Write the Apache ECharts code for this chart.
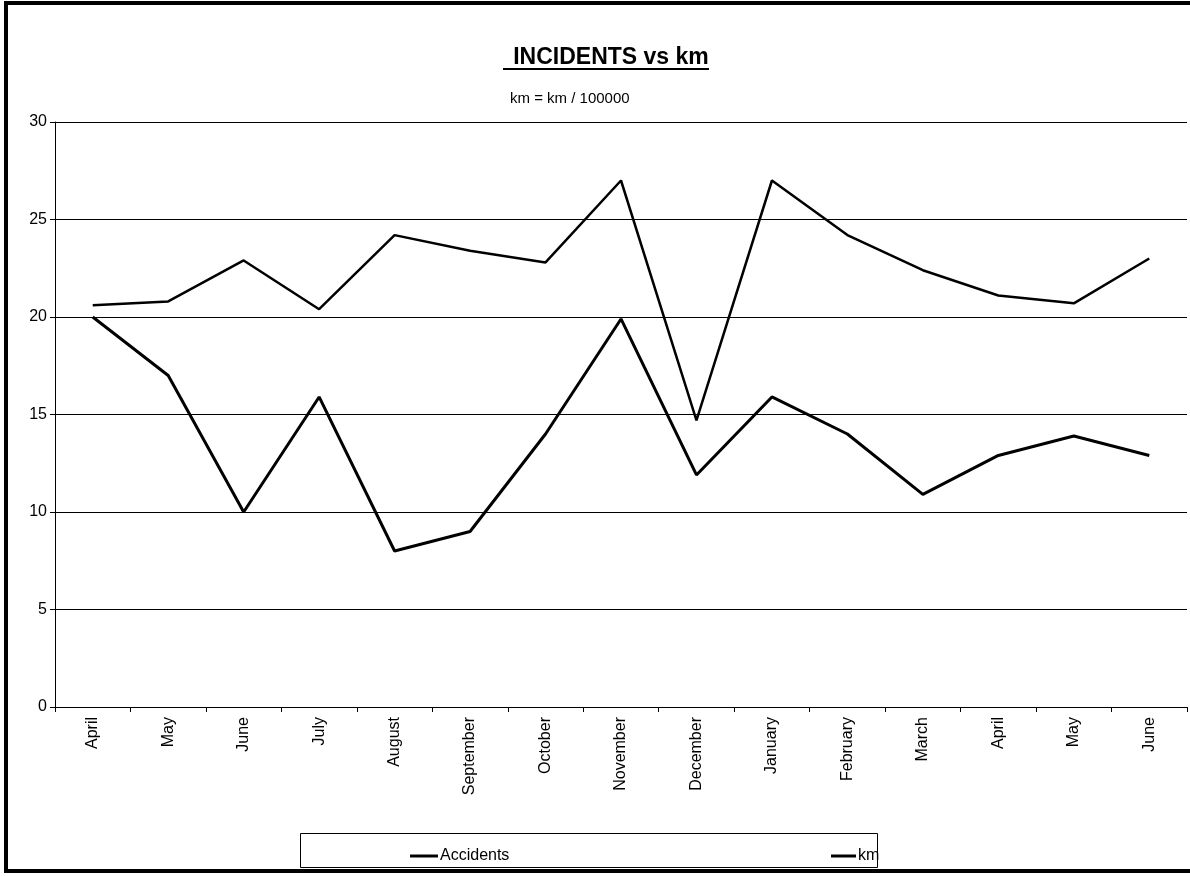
<!DOCTYPE html>
<html>
<head>
<meta charset="utf-8">
<script src="https://cdn.jsdelivr.net/npm/echarts@6/dist/echarts.min.js"></script>
<style>
  html, body { margin: 0; padding: 0; background: #fff; }
  #chart { width: 1190px; height: 876px; }
</style>
</head>
<body>
<div id="chart"></div>
<script>
// Months covered (April to June of the following year)
const months = ['April', 'May', 'June', 'July', 'August', 'September', 'October',
  'November', 'December', 'January', 'February', 'March', 'April', 'May', 'June'];

// Monthly accident counts
const accidents = [20, 17, 10, 15.9, 8, 9, 14, 19.9, 11.9, 15.9, 14, 10.9, 12.9, 13.9, 12.9];

// Distance driven, in units of 100000 km
const km = [20.6, 20.8, 22.9, 20.4, 24.2, 23.4, 22.8, 27.0, 14.7, 27.0, 24.2, 22.4, 21.1, 20.7, 23.0];

const yTicks = { min: 0, max: 30, interval: 5 };

const FONT = 'Liberation Sans, Arial, sans-serif';
const chart = echarts.init(document.getElementById('chart'), null, { renderer: 'canvas' });

chart.setOption({
  backgroundColor: '#fff',
  animation: false,
  title: [
    {
      text: 'INCIDENTS vs km',
      left: 606, top: 41, textAlign: 'center',
      textStyle: { fontFamily: FONT, fontSize: 23, fontWeight: 'bold', color: '#000' }
    },
    {
      text: 'km = km / 100000',
      left: 505, top: 86,
      textStyle: { fontFamily: FONT, fontSize: 15, fontWeight: 'normal', color: '#000' }
    }
  ],
  legend: [
    {
      data: ['Accidents'], left: 405, top: 843,
      icon: 'rect', itemWidth: 28, itemHeight: 3, itemGap: 4,
      textStyle: { fontFamily: FONT, fontSize: 16, color: '#000', padding: [0, 0, 0, -3] }
    },
    {
      data: ['km'], left: 826, top: 843,
      icon: 'rect', itemWidth: 25, itemHeight: 3, itemGap: 4,
      textStyle: { fontFamily: FONT, fontSize: 16, color: '#000', padding: [0, 0, 0, -3] }
    }
  ],
  grid: { left: 55, right: 3, top: 122, bottom: 169, containLabel: false },
  xAxis: {
    type: 'category',
    data: months,
    boundaryGap: true,
    axisLine: { lineStyle: { color: '#000', width: 1 } },
    axisTick: { show: true, alignWithLabel: false, length: 5, lineStyle: { color: '#000' } },
    axisLabel: { rotate: 90, interval: 0, color: '#000', fontFamily: FONT, fontSize: 16, margin: 10 }
  },
  yAxis: {
    type: 'value',
    min: yTicks.min, max: yTicks.max, interval: yTicks.interval,
    axisLine: { show: true, lineStyle: { color: '#000', width: 1 } },
    axisTick: { show: true, length: 5, lineStyle: { color: '#000' } },
    axisLabel: { color: '#000', fontFamily: FONT, fontSize: 16, margin: 8 },
    splitLine: { show: true, lineStyle: { color: '#000', width: 1 } }
  },
  series: [
    {
      name: 'Accidents', type: 'line', data: accidents,
      symbol: 'none', color: '#000',
      lineStyle: { color: '#000', width: 3 }
    },
    {
      name: 'km', type: 'line', data: km,
      symbol: 'none', color: '#000',
      lineStyle: { color: '#000', width: 2.5 }
    }
  ],
  graphic: [
    // outer frame of the chart
    { type: 'rect', shape: { x: 6, y: 3, width: 1190, height: 868 },
      style: { fill: null, stroke: '#000', lineWidth: 4 }, silent: true },
    // underline beneath the title
    { type: 'line', shape: { x1: 503, y1: 69, x2: 709, y2: 69 },
      style: { stroke: '#000', lineWidth: 2 }, silent: true },
    // legend box
    { type: 'rect', shape: { x: 300.5, y: 833.5, width: 577, height: 34 },
      style: { fill: null, stroke: '#000', lineWidth: 1 }, silent: true, z: -1 }
  ]
});
</script>
</body>
</html>
